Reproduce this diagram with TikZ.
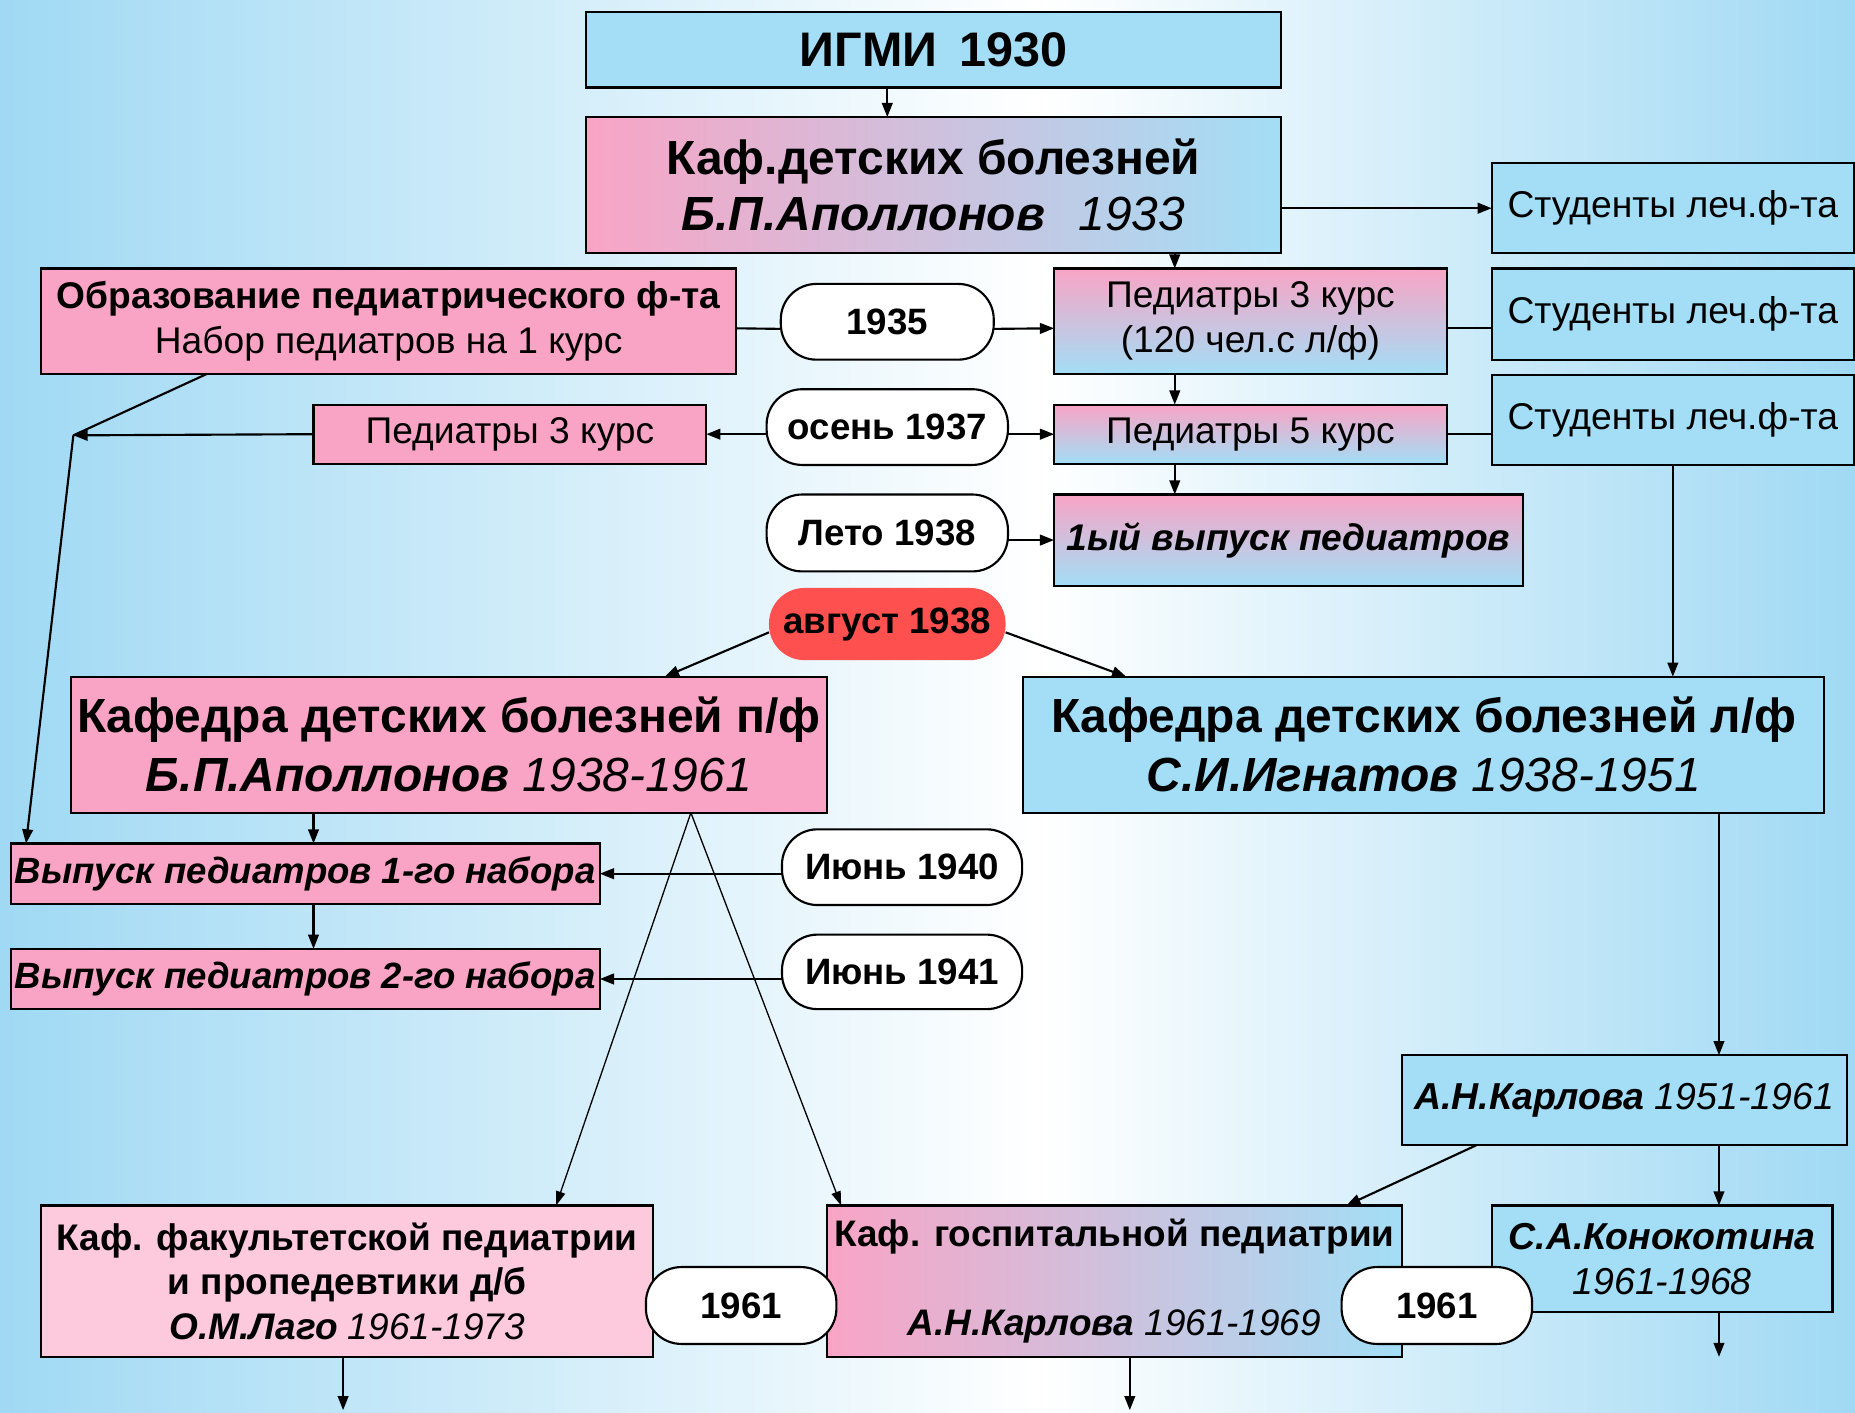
\documentclass[tikz,border=0pt]{standalone}
\usepackage{fontspec}
\setmainfont{Liberation Sans}
\usetikzlibrary{arrows.meta,calc}
\definecolor{bgblue}{HTML}{A0D9F4}
\definecolor{bblue}{HTML}{A3DEF6}
\definecolor{bpink}{HTML}{F9A4C5}
\definecolor{lpink}{HTML}{FCC9DD}
\definecolor{ared}{HTML}{FF5050}
\begin{document}
\begin{tikzpicture}[x=1pt,y=-1pt,
  box/.style={draw=black, line width=1.8pt, inner sep=0pt, outer sep=0pt, align=center, anchor=north west},
  oval/.style={draw=black, line width=1.8pt, rounded corners=30pt, fill=white, inner sep=0pt, outer sep=0pt, anchor=north west, font=\fontsize{31}{36}\selectfont\bfseries},
  arr/.style={line width=1.8pt, -{Triangle[length=12pt,width=9pt]}},
  ln/.style={line width=1.8pt},
  thinarr/.style={line width=1.1pt, -{Triangle[length=12pt,width=8pt]}},
]
% background
\fill[left color=bgblue, right color=white] (0,0) rectangle (880,1194);
\fill[left color=white, right color=bgblue] (880,0) rectangle (1568,1194);
\useasboundingbox (0,0) rectangle (1568,1194);

% boxes
\node[box, fill=bblue, minimum width=588, minimum height=64, font=\fontsize{41}{46}\selectfont\bfseries] (igmi) at (495,10) {ИГМИ\hspace{0.45em}1930};
\node[box, left color=bpink, right color=bblue, minimum width=588, minimum height=115, font=\fontsize{40.5}{47}\selectfont] (kaf1) at (495,99) {\textbf{Каф.детских болезней}\\\textbf{\textit{Б.П.Аполлонов}}\hspace{0.7em}\textit{1933}};
\node[box, fill=bblue, minimum width=306, minimum height=76, font=\fontsize{31.5}{38}\selectfont] (stud1) at (1261,138) {Студенты леч.ф-та};
\node[box, fill=bblue, minimum width=306, minimum height=77, font=\fontsize{31.5}{38}\selectfont] (stud2) at (1261,227) {Студенты леч.ф-та};
\node[box, fill=bblue, minimum width=306, minimum height=76, font=\fontsize{31.5}{38}\selectfont] (stud3) at (1261,317) {Студенты леч.ф-та};
\node[box, fill=bpink, minimum width=587, minimum height=89, font=\fontsize{31.4}{38}\selectfont] (obraz) at (35,227) {\textbf{Образование педиатрического ф-та}\\Набор педиатров на 1 курс};
\node[box, top color=bpink, bottom color=bblue, minimum width=332, minimum height=89, font=\fontsize{31.4}{38}\selectfont] (ped3) at (891,227) {Педиатры 3 курс\\(120 чел.с л/ф)};
\node[box, top color=bpink, bottom color=bblue, minimum width=332, minimum height=50, font=\fontsize{31.4}{38}\selectfont] (ped5) at (891,342) {Педиатры 5 курс};
\node[box, fill=bpink, minimum width=332, minimum height=50, font=\fontsize{31.4}{38}\selectfont] (ped3L) at (265,342) {Педиатры 3 курс};
\node[box, top color=bpink, bottom color=bblue, minimum width=396, minimum height=77, font=\fontsize{31.4}{38}\selectfont\bfseries\itshape] (vyp1938) at (891,418) {1ый выпуск педиатров};
\node[box, fill=bpink, minimum width=639, minimum height=115, font=\fontsize{40.5}{50}\selectfont] (kafp) at (60,572) {\textbf{Кафедра детских болезней п/ф}\\\textbf{\textit{Б.П.Аполлонов}} \textit{1938-1961}};
\node[box, fill=bblue, minimum width=677, minimum height=115, font=\fontsize{40.5}{50}\selectfont] (kafl) at (865,572) {\textbf{Кафедра детских болезней л/ф}\\\textbf{\textit{С.И.Игнатов}} \textit{1938-1951}};
\node[box, fill=bpink, minimum width=498, minimum height=51, font=\fontsize{30.9}{36}\selectfont\bfseries\itshape] (vyp1) at (9,713) {Выпуск педиатров 1-го набора};
\node[box, fill=bpink, minimum width=498, minimum height=51, font=\fontsize{30.9}{36}\selectfont\bfseries\itshape] (vyp2) at (9,802) {Выпуск педиатров 2-го набора};
\node[box, fill=bblue, minimum width=376, minimum height=76, font=\fontsize{31.7}{36}\selectfont] (karl) at (1185,892) {\textbf{\textit{А.Н.Карлова}} \textit{1951-1961}};
\node[box, fill=lpink, minimum width=517, minimum height=128, font=\fontsize{31.3}{37.5}\selectfont\bfseries] (fak) at (35,1019) {Каф. факультетской педиатрии\\и пропедевтики д/б\\\textit{О.М.Лаго} {\mdseries\itshape 1961-1973}};
\node[box, left color=bpink, right color=bblue, minimum width=486, minimum height=128, font=\fontsize{31.2}{37.5}\selectfont] (gosp) at (699,1019) {\textbf{Каф. госпитальной педиатрии}\\\strut\\\textbf{\textit{А.Н.Карлова}} \textit{1961-1969}};
\node[box, fill=bblue, minimum width=288, minimum height=90, font=\fontsize{31.7}{38}\selectfont\itshape] (kono) at (1261,1019) {\textbf{С.А.Конокотина}\\1961-1968};

% ovals
\node[oval, minimum width=180, minimum height=64] (o1935) at (660,240) {1935};
\node[oval, minimum width=204, minimum height=64] (osen) at (648,329) {осень 1937};
\node[oval, minimum width=204, minimum height=65] (leto) at (648,418) {Лето 1938};
\node[oval, draw=none, fill=ared, minimum width=200, minimum height=61] (avg) at (650,497) {август 1938};
\node[oval, minimum width=203, minimum height=64] (jun40) at (661,701) {Июнь 1940};
\node[oval, minimum width=203, minimum height=63] (jun41) at (661,790) {Июнь 1941};
\node[oval, minimum width=161, minimum height=65] (o61a) at (546,1071) {1961};
\node[oval, minimum width=161, minimum height=65] (o61b) at (1134,1071) {1961};

% connectors
\draw[arr] ([xshift=-39]igmi.south) -- ([xshift=-39]kaf1.north);
\draw[arr] (kaf1.east |- stud1.west) -- (stud1.west);
\coordinate (p3t) at ([xshift=-64]ped3.north);
\draw[arr] (kaf1.south -| p3t) -- (p3t);
\draw[ln] ([yshift=-6]obraz.east) -- ([yshift=-6]o1935.west);
\draw[arr] ([yshift=-6]o1935.east) -- ([yshift=-6]ped3.west);
\draw[ln] ([yshift=-6]ped3.east) -- ([yshift=-6]ped3.east -| stud2.west);
\draw[arr] (osen.east |- ped5.west) -- (ped5.west);
\draw[arr] (osen.west |- ped3L.east) -- (ped3L.east);
\draw[ln] (ped5.east) -- (ped5.east -| stud3.west);
\coordinate (J) at (62,368);
\draw[arr] (ped3L.west) -- (J);
\draw[ln] ([xshift=-153.5]obraz.south) -- (J);
\draw[arr] (J) -- ([xshift=-236]vyp1.north);
\draw[arr] (ped3.south -| p3t) -- (ped5.north -| p3t);
\draw[arr] (ped5.south -| p3t) -- (vyp1938.north -| p3t);
\draw[arr] (leto.east |- vyp1938.west) -- (vyp1938.west);
\draw[arr] ([yshift=-7]avg.west) -- ([xshift=182.5]kafp.north);
\draw[arr] ([yshift=-7]avg.east) -- ([xshift=-251.5]kafl.north);
\draw[arr] (stud3.south) -- (stud3.south |- kafl.north);
\coordinate (k1) at ([xshift=-114.5]kafp.south);
\draw[arr] (k1) -- (k1 |- vyp1.north);
\draw[arr] (vyp1.south -| k1) -- (vyp2.north -| k1);
\draw[arr] (jun40.west |- vyp1.east) -- (vyp1.east);
\draw[arr] (jun41.west |- vyp2.east) -- (vyp2.east);
\draw[thinarr] ([xshift=204.5]kafp.south) -- ([xshift=176.5]fak.north);
\draw[thinarr] ([xshift=204.5]kafp.south) -- ([xshift=-231]gosp.north);
\coordinate (k2) at ([xshift=249.5]kafl.south);
\draw[arr] (k2) -- (k2 |- karl.north);
\draw[arr] (karl.south -| k2) -- (kono.north -| k2);
\draw[arr] ([xshift=-125]karl.south) -- ([xshift=196]gosp.north);
\coordinate (e1) at (290,1192);
\coordinate (e2) at (955,1192);
\coordinate (e3) at (1453,1147);
\draw[arr] (fak.south -| e1) -- (e1);
\draw[arr] (gosp.south -| e2) -- (e2);
\draw[arr] (kono.south -| e3) -- (e3);
\end{tikzpicture}
\end{document}
